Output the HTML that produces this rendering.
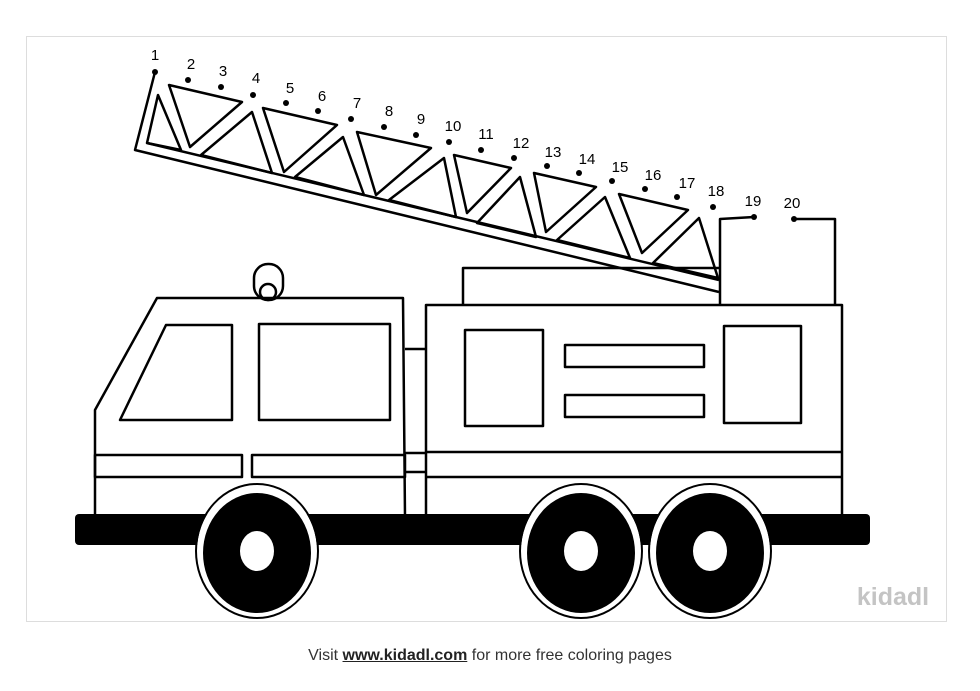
<!DOCTYPE html>
<html><head><style>
html,body{margin:0;padding:0;background:#fff;width:980px;height:691px;overflow:hidden;font-family:"Liberation Sans",sans-serif}
svg{position:absolute;left:0;top:0}
.foot{position:absolute;left:0;width:980px;top:647px;text-align:center;font-size:16px;color:#333}
.foot u{color:#222;font-weight:bold}
</style></head><body>
<svg width="980" height="691" viewBox="0 0 980 691">
<rect x="26.5" y="36.5" width="920" height="585" fill="none" stroke="#ddd" stroke-width="1"/>
<g fill="none" stroke="#000" stroke-width="2.5" stroke-linejoin="round">
<!-- ladder -->
<polyline points="155,72 135,150 719,292"/>
<line x1="147" y1="143" x2="719" y2="280"/>
<polygon points="169,85 242,102 190,147"/>
<polygon points="263,108 337,125 284,172"/>
<polygon points="357,132 431,148 376,195"/>
<polygon points="454,155 511,168 467,213"/>
<polygon points="534,173 596,187 546,232"/>
<polygon points="619,194 688,210 642,253"/>
<polygon points="158,95 147,143 181,150"/>
<polygon points="252,112 201,155 272,173"/>
<polygon points="343,137 295,177 364,195"/>
<polygon points="444,158 389,200 456,217"/>
<polygon points="520,177 477,223 536,237"/>
<polygon points="605,197 557,240 630,258"/>
<polygon points="699,218 653,263 718,278"/>
<!-- tower -->
<polyline points="754,217 720,219 720,305"/>
<polyline points="794,219 835,219 835,305"/>
<polyline points="463,305 463,268 720,268"/>
<!-- cab -->
<polyline points="95,517 95,410 157,298 403,298 405,517"/>
<polygon points="120,420 166,325 232,325 232,420"/>
<rect x="259" y="324" width="131" height="96"/>
<rect x="254" y="264" width="29" height="36" rx="14"/>
<circle cx="268" cy="292" r="8"/>
<rect x="95" y="455" width="147" height="22"/>
<rect x="252" y="455" width="153" height="22"/>
<line x1="405" y1="349" x2="426" y2="349"/>
<line x1="405" y1="453" x2="426" y2="453"/>
<line x1="405" y1="472" x2="426" y2="472"/>
<!-- body -->
<rect x="426" y="305" width="416" height="212"/>
<line x1="426" y1="452" x2="842" y2="452"/>
<line x1="426" y1="477" x2="842" y2="477"/>
<rect x="465" y="330" width="78" height="96"/>
<rect x="565" y="345" width="139" height="22"/>
<rect x="565" y="395" width="139" height="22"/>
<rect x="724" y="326" width="77" height="97"/>
</g>
<rect x="75" y="514" width="795" height="31" rx="4" fill="#000"/>
<g>
<ellipse cx="257" cy="551" rx="60" ry="66" fill="#fff"/>
<ellipse cx="257" cy="551" rx="61" ry="67" fill="none" stroke="#000" stroke-width="2"/>
<ellipse cx="257" cy="553" rx="54" ry="60" fill="#000"/>
<ellipse cx="257" cy="551" rx="17" ry="20" fill="#fff"/>
<ellipse cx="581" cy="551" rx="60" ry="66" fill="#fff"/>
<ellipse cx="581" cy="551" rx="61" ry="67" fill="none" stroke="#000" stroke-width="2"/>
<ellipse cx="581" cy="553" rx="54" ry="60" fill="#000"/>
<ellipse cx="581" cy="551" rx="17" ry="20" fill="#fff"/>
<ellipse cx="710" cy="551" rx="60" ry="66" fill="#fff"/>
<ellipse cx="710" cy="551" rx="61" ry="67" fill="none" stroke="#000" stroke-width="2"/>
<ellipse cx="710" cy="553" rx="54" ry="60" fill="#000"/>
<ellipse cx="710" cy="551" rx="17" ry="20" fill="#fff"/>
</g>
<g fill="#000">
<circle cx="155" cy="72" r="3"/><circle cx="188" cy="80" r="3"/><circle cx="221" cy="87" r="3"/><circle cx="253" cy="95" r="3"/><circle cx="286" cy="103" r="3"/><circle cx="318" cy="111" r="3"/><circle cx="351" cy="119" r="3"/><circle cx="384" cy="127" r="3"/><circle cx="416" cy="135" r="3"/><circle cx="449" cy="142" r="3"/><circle cx="481" cy="150" r="3"/><circle cx="514" cy="158" r="3"/><circle cx="547" cy="166" r="3"/><circle cx="579" cy="173" r="3"/><circle cx="612" cy="181" r="3"/><circle cx="645" cy="189" r="3"/><circle cx="677" cy="197" r="3"/><circle cx="713" cy="207" r="3"/><circle cx="754" cy="217" r="3"/><circle cx="794" cy="219" r="3"/>
</g>
<g font-family="Liberation Sans, sans-serif" font-size="15" fill="#000" text-anchor="middle">
<text x="155" y="60">1</text><text x="191" y="69">2</text><text x="223" y="76">3</text><text x="256" y="83">4</text><text x="290" y="93">5</text><text x="322" y="101">6</text><text x="357" y="108">7</text><text x="389" y="116">8</text><text x="421" y="124">9</text><text x="453" y="131">10</text><text x="486" y="139">11</text><text x="521" y="148">12</text><text x="553" y="157">13</text><text x="587" y="164">14</text><text x="620" y="172">15</text><text x="653" y="180">16</text><text x="687" y="188">17</text><text x="716" y="196">18</text><text x="753" y="206">19</text><text x="792" y="208">20</text>
</g>
<text x="893" y="605" font-family="Liberation Sans, sans-serif" font-size="25" font-weight="bold" fill="#c4c4c4" text-anchor="middle">kidadl</text>
</svg>
<div class="foot">Visit <u>www.kidadl.com</u> for more free coloring pages</div>
</body></html>
